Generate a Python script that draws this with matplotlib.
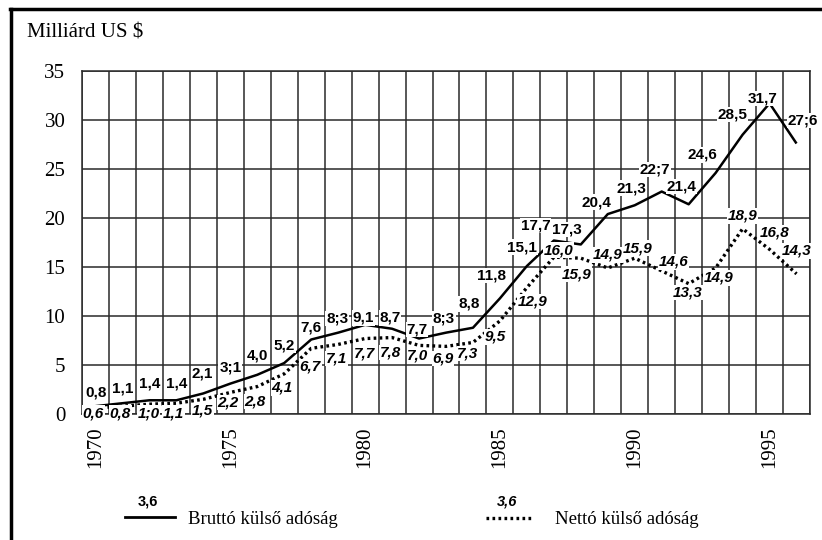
import matplotlib
matplotlib.use("Agg")
import matplotlib.pyplot as plt
from matplotlib.lines import Line2D

years = list(range(1970, 1997))
gross = [0.8, 1.1, 1.4, 1.4, 2.1, 3.1, 4.0, 5.2, 7.6, 8.3, 9.1, 8.7, 7.7, 8.3, 8.8,
         11.8, 15.1, 17.7, 17.3, 20.4, 21.3, 22.7, 21.4, 24.6, 28.5, 31.7, 27.6]
net = [0.6, 0.8, 1.0, 1.1, 1.5, 2.2, 2.8, 4.1, 6.7, 7.1, 7.7, 7.8, 7.0, 6.9, 7.3,
       9.5, 12.9, 16.0, 15.9, 14.9, 15.9, 14.6, 13.3, 14.9, 18.9, 16.8, 14.3]
gross_labels = ["0,8", "1,1", "1,4", "1,4", "2,1", "3;1", "4,0", "5,2", "7,6", "8;3",
                "9,1", "8,7", "7,7", "8;3", "8,8", "11,8", "15,1", "17,7", "17,3",
                "20,4", "21,3", "22;7", "21,4", "24,6", "28,5", "31,7", "27;6"]
net_labels = ["0,6", "0,8", "1;0", "1,1", "1,5", "2,2", "2,8", "4,1", "6,7", "7,1",
              "7,7", "7,8", "7,0", "6,9", "7,3", "9,5", "12,9", "16,0", "15,9",
              "14,9", "15,9", "14,6", "13,3", "14,9", "18,9", "16,8", "14,3"]
year_ticks = [1970, 1975, 1980, 1985, 1990, 1995]
y_ticks = [0, 5, 10, 15, 20, 25, 30, 35]
title = "Milliárd US $"
legend_gross = "Bruttó külső adóság"
legend_net = "Nettó külső adóság"
legend_sample = "3,6"

# label offsets in pixels (dx, dy)
gross_off = [(1, 14), (0, 15), (0, 17), (0, 17), (-1, 20), (0, 16), (0, 19), (0, 18),
             (0, 12), (-1, 14), (-2, 7), (-2, 11), (-2, 9), (-2, 14), (-4, 24),
             (-8, 23), (-5, 19), (-18, 15), (-14, 15), (-11, 12), (-3, 17), (-7, 22),
             (-7, 18), (-13, 18), (-10, 20), (-7, 5), (6, 23)]
net_off = [(-2, -5), (-2, -7), (-1, -9), (-3, -10), (-1, -11), (-2, -10), (-2, -15),
           (-2, -14), (-1, -18), (-2, -14), (-1, -15), (-2, -15), (-1, -10), (-3, -12),
           (-5, -11), (-5, -16), (6, -14), (5, 7), (-4, -16), (0, 13), (3, 10),
           (12, 9), (-1, -9), (3, -10), (0, 13), (5, 17), (0, 23)]

serif = ["Liberation Serif", "DejaVu Serif"]
sans = ["Liberation Sans", "DejaVu Sans"]
gridc = "#2a2a2a"

fig = plt.figure(figsize=(8.22, 5.40), dpi=100)
fig.patch.set_facecolor("white")
ax = fig.add_axes([82 / 822, 1 - 414 / 540, (810 - 82) / 822, (414 - 71) / 540])

# grid
for k in range(len(years) + 1):
    ax.axvline(years[0] - 0.5 + k, color=gridc, lw=1.1, zorder=1)
for yv in y_ticks:
    ax.axhline(yv, color=gridc, lw=1.1, zorder=1)

ax.plot(years, gross, color="black", lw=1.8, zorder=3, solid_capstyle="butt")
ax.plot(years, net, color="black", lw=2.4, linestyle=(0, (0.8, 1.0)), zorder=3)

box = dict(boxstyle="square,pad=0.05", fc="white", ec="none")
for x, v, s, (dx, dy) in zip(years, gross, gross_labels, gross_off):
    ax.annotate(s, (x, v), xytext=(dx, dy), textcoords="offset pixels",
                ha="center", va="center", fontsize=11, fontweight="bold",
                family=sans, bbox=box, zorder=4)
for x, v, s, (dx, dy) in zip(years, net, net_labels, net_off):
    ax.annotate(s, (x, v), xytext=(dx, dy), textcoords="offset pixels",
                ha="center", va="center", fontsize=11, fontweight="bold",
                fontstyle="italic", family=sans, bbox=box, zorder=4)

ax.set_xlim(years[0] - 0.5, years[-1] + 0.5)
ax.set_ylim(0, 35)
ax.set_xticks(year_ticks)
ax.set_xticklabels([str(t) for t in year_ticks], rotation=90, family=serif, fontsize=15)
ax.set_yticks(y_ticks)
ax.set_yticklabels([str(t) for t in y_ticks], family=serif, fontsize=15)
ax.tick_params(length=0, pad=9)
ax.tick_params(axis="y", pad=12)
for sp in ax.spines.values():
    sp.set_color(gridc)
    sp.set_linewidth(1.1)

fig.text(27 / 822, 1 - 33 / 540, title, family=serif, fontsize=15, ha="left", va="center")

# legend
fig.add_artist(Line2D([125 / 822, 175 / 822], [1 - 517 / 540] * 2, color="black", lw=2))
fig.text(148 / 822, 1 - 502 / 540, legend_sample, family=sans, fontsize=10.5,
         fontweight="bold", ha="center", va="center")
fig.text(188 / 822, 1 - 519 / 540, legend_gross, family=serif, fontsize=13.5,
         ha="left", va="center")
fig.add_artist(Line2D([486 / 822, 533 / 822], [1 - 518 / 540] * 2, color="black",
                      lw=2.4, linestyle=(0, (0.8, 1.0))))
fig.text(507 / 822, 1 - 502 / 540, legend_sample, family=sans, fontsize=10.5,
         fontweight="bold", fontstyle="italic", ha="center", va="center")
fig.text(555 / 822, 1 - 519 / 540, legend_net, family=serif, fontsize=13.5,
         ha="left", va="center")

# page border (top and left)
fig.add_artist(Line2D([10 / 822, 1.0], [1 - 9 / 540] * 2, color="black", lw=2.5))
fig.add_artist(Line2D([11 / 822, 11 / 822], [0, 1 - 9 / 540], color="black", lw=2.5))

fig.savefig("out.png", dpi=100, facecolor="white")
